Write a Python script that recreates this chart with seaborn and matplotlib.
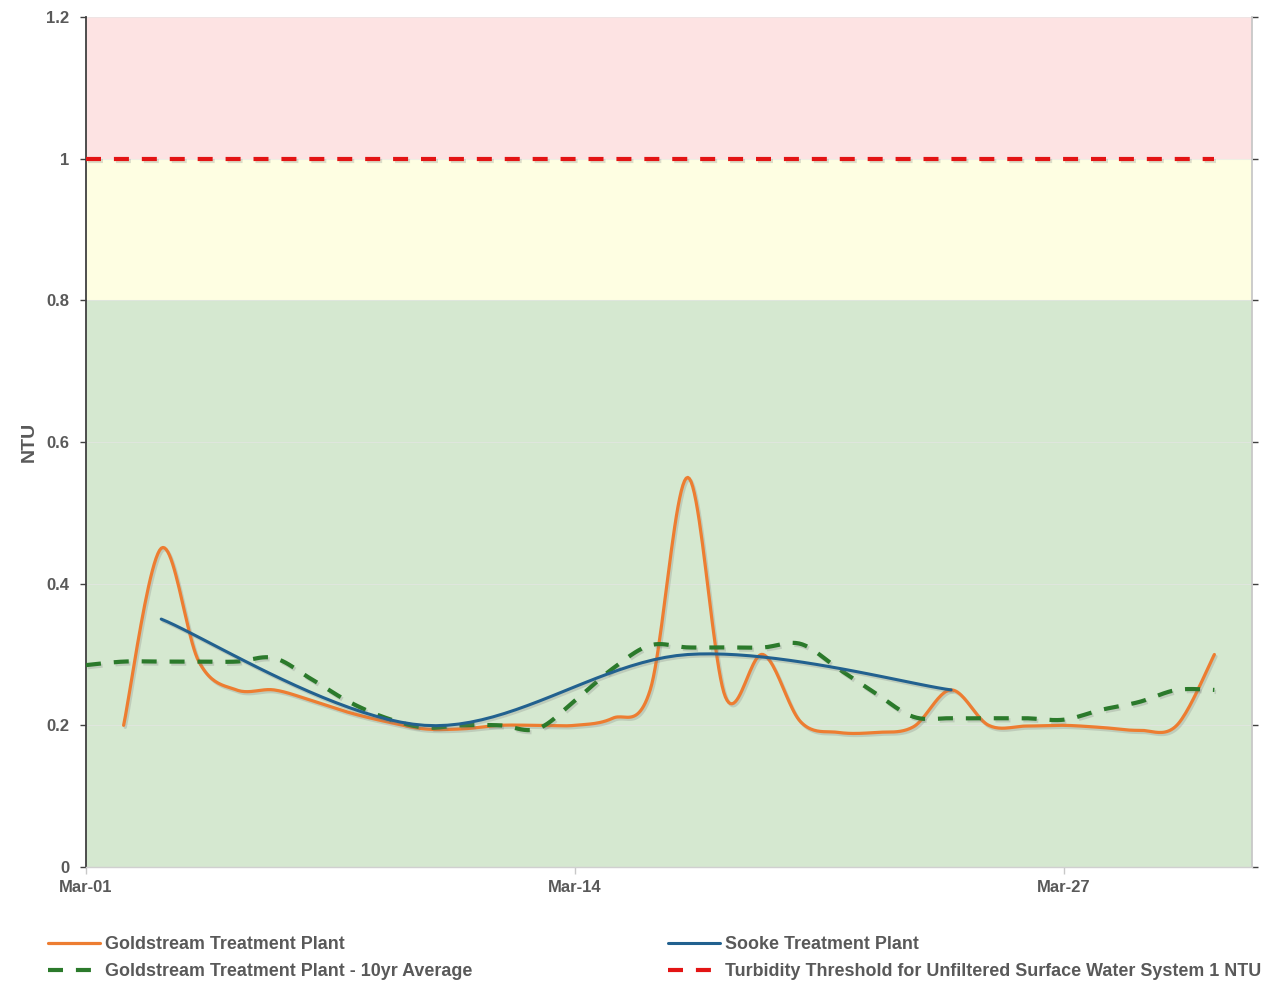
import numpy as np
import pandas as pd
import matplotlib
matplotlib.use("Agg")
import matplotlib.pyplot as plt
import matplotlib.dates as mdates
import matplotlib.patheffects as pe
from matplotlib.lines import Line2D
import seaborn as sns

# ---------------- data ----------------
start_date = "2021-03-01"
gold_days = list(range(1, 31))
gold_vals = [0.20, 0.45, 0.29, 0.25, 0.25, 0.235, 0.218, 0.205, 0.195, 0.195,
             0.20, 0.20, 0.20, 0.21, 0.25, 0.55, 0.24, 0.30, 0.205, 0.19,
             0.19, 0.198, 0.25, 0.20, 0.199, 0.20, 0.197, 0.193, 0.20, 0.30]
avg_days = list(range(0, 31))
avg_vals = [0.285, 0.29, 0.29, 0.29, 0.29, 0.295, 0.265, 0.233, 0.21, 0.197,
            0.20, 0.20, 0.195, 0.235, 0.28, 0.313, 0.31, 0.31, 0.31, 0.315,
            0.28, 0.245, 0.212, 0.21, 0.21, 0.21, 0.208, 0.222, 0.233, 0.25,
            0.25]
sooke_days = [2, 9, 16, 23]
sooke_vals = [0.35, 0.20, 0.30, 0.25]
thresh_days = [0, 30]
thresh_vals = [1.0, 1.0]

labels = ["Goldstream Treatment Plant",
          "Goldstream Treatment Plant - 10yr Average",
          "Sooke Treatment Plant",
          "Turbidity Threshold for Unfiltered Surface Water System 1 NTU"]
y_ticks = [0, 0.2, 0.4, 0.6, 0.8, 1.0, 1.2]
y_ticklabels = ["0", "0.2", "0.4", "0.6", "0.8", "1", "1.2"]
x_tick_days = [0, 13, 26]
bands = [(0.0, 0.8, "#d5e8d0"), (0.8, 1.0, "#fefee2"), (1.0, 1.2, "#fde3e3")]


def smooth(xs, ys, n=24):
    """Excel-like smoothed line (Catmull-Rom / Bezier) through the points."""
    p = np.column_stack([np.asarray(xs, float), np.asarray(ys, float)])
    if len(p) < 3:
        return p[:, 0], p[:, 1]
    pp = np.vstack([p[0], p, p[-1]])
    t = np.linspace(0, 1, n)[:, None]
    out = []
    for i in range(1, len(pp) - 2):
        p0, p1, p2, p3 = pp[i - 1], pp[i], pp[i + 1], pp[i + 2]
        c1 = p1 + (p2 - p0) / 6.0
        c2 = p2 - (p3 - p1) / 6.0
        seg = ((1 - t) ** 3) * p1 + 3 * ((1 - t) ** 2) * t * c1 + 3 * (1 - t) * t ** 2 * c2 + t ** 3 * p2
        out.append(seg if i == 1 else seg[1:])
    s = np.vstack(out)
    return s[:, 0], s[:, 1]


base = pd.Timestamp(start_date)


def to_dates(d):
    return base + pd.to_timedelta(np.asarray(d, float), unit="D")


sns.set_theme(style="white")
plt.rcParams["font.family"] = ["Liberation Sans", "DejaVu Sans"]
text_col = "#595959"

fig = plt.figure(figsize=(12.69, 9.83), dpi=100)
ax = fig.add_axes([86 / 1269, 116 / 983, 1166 / 1269, 850 / 983])

for lo, hi, c in bands:
    ax.axhspan(lo, hi, color=c, zorder=0.2, lw=0)

shadow = [pe.SimpleLineShadow(offset=(1.2, -1.5), shadow_color="#7a7a7a", alpha=0.25), pe.Normal()]

series = [
    (gold_days, gold_vals, labels[0], "#ed7d31", 2.3, None, True),
    (avg_days, avg_vals, labels[1], "#2b7a2b", 3.0, (3.6, 3.1), True),
    (sooke_days, sooke_vals, labels[2], "#22618f", 2.2, None, True),
    (thresh_days, thresh_vals, labels[3], "#e31414", 3.0, (3.6, 3.1), False),
]
handles = []
for d, v, lab, col, lw, dash, sm in series:
    if sm:
        sx, sy = smooth(d, v)
    else:
        sx, sy = np.asarray(d, float), np.asarray(v, float)
    df = pd.DataFrame({"date": to_dates(sx), "val": sy})
    sns.lineplot(data=df, x="date", y="val", ax=ax, color=col, lw=lw,
                 sort=False, estimator=None, zorder=3)
    ln = ax.lines[-1]
    if dash is not None:
        ln.set_dashes(dash)
        ln.set_dash_capstyle("butt")
    ln.set_path_effects(shadow)
    h = Line2D([], [], color=col, lw=lw)
    if dash is not None:
        h.set_dashes(dash)
        h.set_dash_capstyle("butt")
    handles.append(h)

ax.set_xlim(base, base + pd.Timedelta(days=31))
ax.set_ylim(0, 1.2)
ax.set_yticks(y_ticks)
ax.set_yticklabels(y_ticklabels)
ax.set_xticks(to_dates(x_tick_days))
ax.xaxis.set_major_formatter(mdates.DateFormatter("%b-%d"))

ax.set_axisbelow(True)
ax.yaxis.grid(True, color="#e6e6e6", lw=0.8, alpha=0.6, zorder=0.5)
ax.xaxis.grid(False)

for t in ax.get_xticklabels() + ax.get_yticklabels():
    t.set_fontweight("bold")
    t.set_fontsize(12)
    t.set_color(text_col)

ax.tick_params(axis="y", which="both", left=True, right=True, direction="out",
               length=4, width=1, color="#404040", pad=8)
ax.tick_params(axis="x", which="both", bottom=True, direction="out",
               length=5, width=1, color="#c8c8c8", pad=4)

ax.spines["left"].set_color("#404040")
ax.spines["left"].set_linewidth(1.3)
ax.spines["right"].set_color("#c8c8c8")
ax.spines["right"].set_linewidth(1.3)
ax.spines["top"].set_visible(False)
ax.spines["bottom"].set_color("#d0d0d0")
ax.spines["bottom"].set_linewidth(1.0)

ax.set_xlabel("")
ax.set_ylabel("NTU", fontsize=14, fontweight="bold", color=text_col)
ax.yaxis.set_label_coords(-0.041, 0.5)

leg_kw = dict(loc="upper left", frameon=False, ncol=1, handlelength=2.9,
              handletextpad=0.3, labelspacing=0.55, borderpad=0, borderaxespad=0,
              prop={"weight": "bold", "size": 12.9})
leg1 = fig.legend(handles[:2], labels[:2], bbox_to_anchor=(48 / 1269, 1 - 936 / 983), **leg_kw)
leg2 = fig.legend(handles[2:], labels[2:], bbox_to_anchor=(668 / 1269, 1 - 936 / 983), **leg_kw)
for lg in (leg1, leg2):
    for t in lg.get_texts():
        t.set_color(text_col)

fig.savefig("out.png", dpi=100)
